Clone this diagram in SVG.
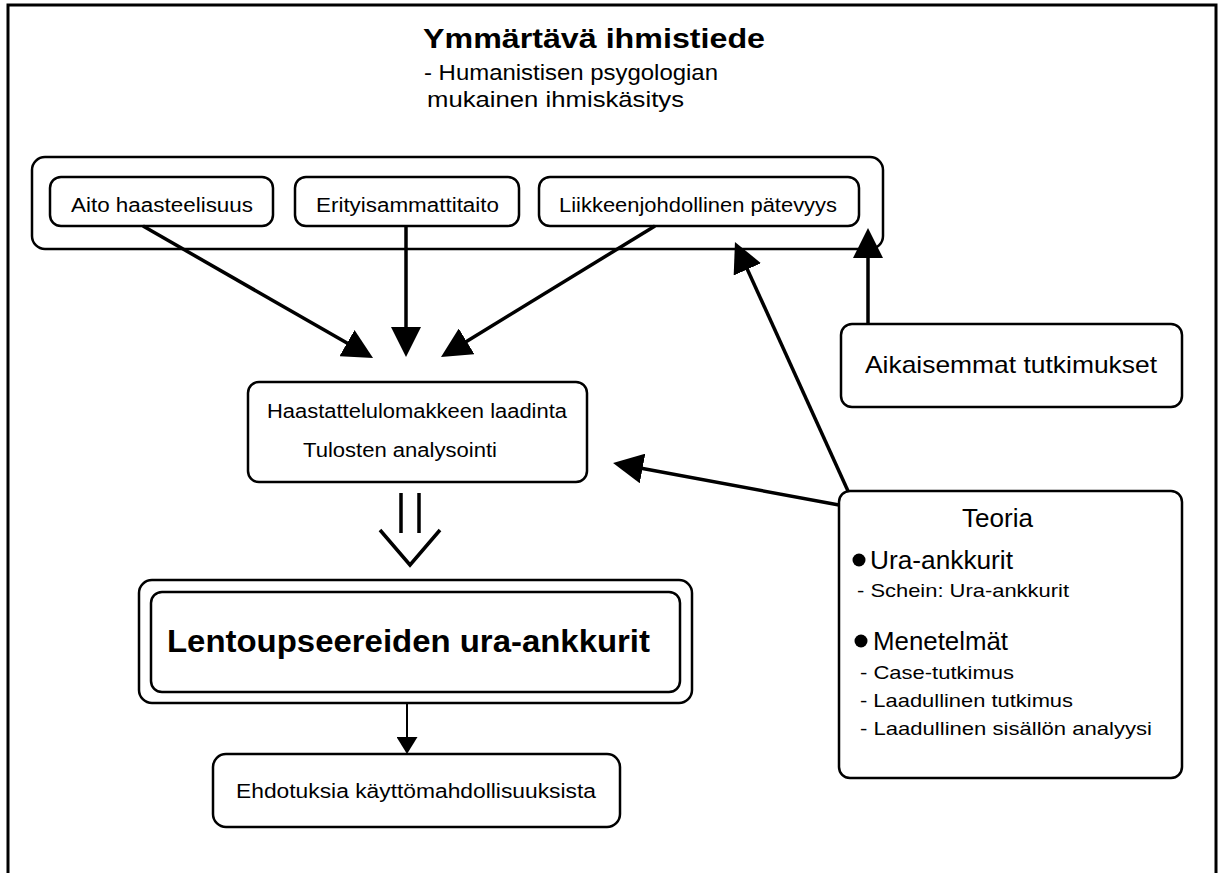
<svg xmlns="http://www.w3.org/2000/svg" width="1223" height="873" viewBox="0 0 1223 873">
<defs>
<style>
.box{fill:#fff;stroke:#000;stroke-width:2.5}
.t{font-family:"Liberation Sans",Arial,sans-serif;fill:#000}
.b{font-weight:bold}
.con{stroke:#000;stroke-width:3.5;fill:none}
.thin{stroke:#000;stroke-width:2;fill:none}
</style>
<marker id="ah" viewBox="0 0 30 30" refX="4" refY="15" markerWidth="30" markerHeight="30" markerUnits="userSpaceOnUse" orient="auto">
<path d="M0,0 L30,15 L0,30 Z" fill="#000"/>
</marker>
<marker id="ahs" viewBox="0 0 17 21" refX="2" refY="10.5" markerWidth="17" markerHeight="21" markerUnits="userSpaceOnUse" orient="auto">
<path d="M0,0 L17,10.5 L0,21 Z" fill="#000"/>
</marker>
</defs>
<rect x="0" y="0" width="1223" height="873" fill="#fff"/>
<rect id="frame" x="8" y="5" width="1208" height="900" fill="none" stroke="#000" stroke-width="3"/>

<g id="title">
<text class="t b" x="423" y="48" font-size="28" textLength="342" lengthAdjust="spacingAndGlyphs">Ymmärtävä ihmistiede</text>
<text class="t" x="424" y="80" font-size="22" textLength="294" lengthAdjust="spacingAndGlyphs">- Humanistisen psygologian</text>
<text class="t" x="427" y="107" font-size="22" textLength="257" lengthAdjust="spacingAndGlyphs">mukainen ihmiskäsitys</text>
</g>

<g id="group-competences">
<rect class="box" x="32" y="157" width="851" height="92" rx="13"/>
</g>
<g id="n-aito">
<rect class="box" x="50" y="177" width="223" height="49" rx="11"/>
<text class="t" x="71" y="212" font-size="20" textLength="182" lengthAdjust="spacingAndGlyphs">Aito haasteelisuus</text>
</g>
<g id="n-erityis">
<rect class="box" x="295" y="177" width="224" height="49" rx="11"/>
<text class="t" x="316" y="212" font-size="20" textLength="183" lengthAdjust="spacingAndGlyphs">Erityisammattitaito</text>
</g>
<g id="n-liikkeen">
<rect class="box" x="539" y="177" width="320" height="49" rx="11"/>
<text class="t" x="559" y="212" font-size="20" textLength="278" lengthAdjust="spacingAndGlyphs">Liikkeenjohdollinen pätevyys</text>
</g>

<g id="n-haastattelu">
<rect class="box" x="248" y="382" width="339" height="100" rx="11"/>
<text class="t" x="267" y="418" font-size="20" textLength="300" lengthAdjust="spacingAndGlyphs">Haastattelulomakkeen laadinta</text>
<text class="t" x="303" y="457" font-size="20" textLength="194" lengthAdjust="spacingAndGlyphs">Tulosten analysointi</text>
</g>

<g id="n-aikaisemmat">
<rect class="box" x="841" y="324" width="341" height="83" rx="11"/>
<text class="t" x="865" y="373" font-size="24" textLength="292" lengthAdjust="spacingAndGlyphs">Aikaisemmat tutkimukset</text>
</g>

<g id="n-teoria">
<rect class="box" x="839" y="491" width="343" height="287" rx="11"/>
<text class="t" x="962" y="527" font-size="25" textLength="71" lengthAdjust="spacingAndGlyphs">Teoria</text>
<circle cx="859" cy="560" r="6.5" fill="#000"/>
<text class="t" x="870" y="569" font-size="26" textLength="143" lengthAdjust="spacingAndGlyphs">Ura-ankkurit</text>
<text class="t" x="857" y="597" font-size="19" textLength="212" lengthAdjust="spacingAndGlyphs">- Schein: Ura-ankkurit</text>
<circle cx="861" cy="641" r="6.5" fill="#000"/>
<text class="t" x="873" y="650" font-size="26" textLength="135" lengthAdjust="spacingAndGlyphs">Menetelmät</text>
<text class="t" x="860" y="679" font-size="19" textLength="154" lengthAdjust="spacingAndGlyphs">- Case-tutkimus</text>
<text class="t" x="860" y="707" font-size="19" textLength="213" lengthAdjust="spacingAndGlyphs">- Laadullinen tutkimus</text>
<text class="t" x="860" y="735" font-size="19" textLength="292" lengthAdjust="spacingAndGlyphs">- Laadullinen sisällön analyysi</text>
</g>

<g id="n-lento">
<rect class="box" x="139" y="580" width="553" height="123" rx="13"/>
<rect class="box" x="151" y="592" width="529" height="100" rx="11"/>
<text class="t b" x="167" y="652" font-size="31" textLength="483" lengthAdjust="spacingAndGlyphs">Lentoupseereiden ura-ankkurit</text>
</g>

<g id="n-ehdotuksia">
<rect class="box" x="213" y="754" width="407" height="73" rx="13"/>
<text class="t" x="236" y="798" font-size="20" textLength="360" lengthAdjust="spacingAndGlyphs">Ehdotuksia käyttömahdollisuuksista</text>
</g>

<g id="connectors">
<line class="con" x1="143" y1="226" x2="350.5" y2="345.1" marker-end="url(#ah)"/>
<line class="con" x1="406" y1="226" x2="406" y2="331" marker-end="url(#ah)"/>
<line class="con" x1="655" y1="226" x2="463.2" y2="343.4" marker-end="url(#ah)"/>
<line class="con" x1="868" y1="323" x2="868" y2="254" marker-end="url(#ah)"/>
<line class="con" x1="848" y1="491" x2="745.7" y2="265.7" marker-end="url(#ah)"/>
<line class="con" x1="839" y1="505" x2="638.6" y2="467.8" marker-end="url(#ah)"/>
<line class="con" x1="401" y1="493" x2="401" y2="533"/>
<line class="con" x1="419" y1="493" x2="419" y2="533"/>
<polyline class="con" points="380,530 410,565 440,530"/>
<line class="thin" x1="407" y1="703" x2="407" y2="739" marker-end="url(#ahs)"/>
</g>
</svg>
